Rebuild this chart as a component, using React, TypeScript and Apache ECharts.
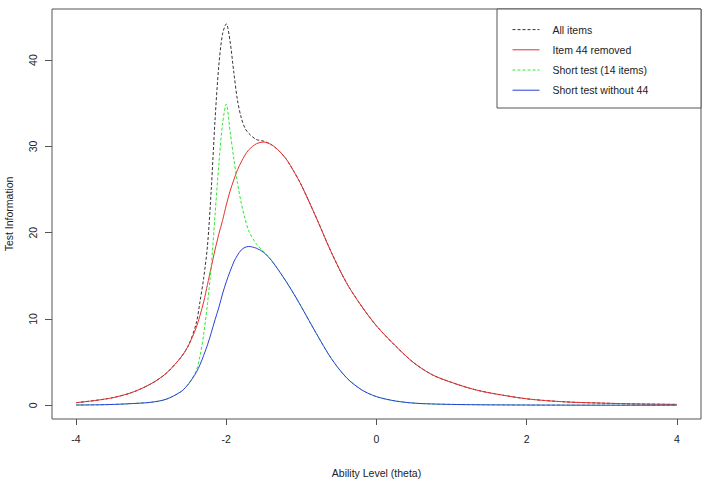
import React, { useEffect, useRef } from "react";
import * as echarts from "echarts";

const theta = [-4, -3.75, -3.5, -3.25, -3, -2.8, -2.6, -2.5, -2.4, -2.35, -2.3, -2.25, -2.2, -2.15, -2.1, -2.05, -2, -1.95, -1.9, -1.85, -1.8, -1.75, -1.7, -1.6, -1.5, -1.4, -1.3, -1.2, -1.1, -1, -0.8, -0.6, -0.4, -0.2, 0, 0.25, 0.5, 0.75, 1, 1.25, 1.5, 2, 2.5, 3, 3.5, 4];

const allItems = [0.3, 0.55, 0.9, 1.5, 2.5, 3.7, 5.6, 7.0, 9.5, 12.0, 14.8, 18.5, 25.0, 33.0, 39.3, 43.0, 44.2, 42.2, 38.6, 35.3, 33.3, 32.1, 31.5, 30.8, 30.6, 30.2, 29.5, 28.5, 27.1, 25.5, 21.7, 17.7, 14.2, 11.5, 9.2, 6.9, 4.9, 3.5, 2.65, 1.95, 1.45, 0.75, 0.4, 0.25, 0.15, 0.1];

const item44Removed = [0.3, 0.55, 0.9, 1.5, 2.5, 3.7, 5.6, 7.0, 9.0, 10.4, 12.0, 14.0, 16.0, 18.0, 19.8, 21.4, 23.2, 24.8, 26.1, 27.3, 28.2, 29.0, 29.6, 30.3, 30.5, 30.2, 29.5, 28.5, 27.1, 25.5, 21.7, 17.7, 14.2, 11.5, 9.2, 6.9, 4.9, 3.5, 2.65, 1.95, 1.45, 0.75, 0.4, 0.25, 0.15, 0.1];

const shortTest = [0.03, 0.05, 0.1, 0.2, 0.35, 0.7, 1.6, 2.5, 4.0, 5.7, 8.3, 11.8, 16.1, 22.0, 27.8, 32.6, 34.9, 31.8, 28.6, 25.7, 23.4, 21.6, 20.2, 18.7, 17.8, 16.8, 15.6, 14.3, 12.9, 11.4, 8.3, 5.4, 3.2, 1.8, 1.0, 0.5, 0.25, 0.15, 0.1, 0.07, 0.05, 0.03, 0.02, 0.01, 0.01, 0.01];

const shortNo44 = [0.03, 0.05, 0.1, 0.2, 0.35, 0.7, 1.6, 2.5, 3.8, 4.7, 5.8, 7.0, 8.4, 9.9, 11.3, 12.9, 14.3, 15.5, 16.6, 17.4, 18.0, 18.3, 18.4, 18.2, 17.7, 16.8, 15.6, 14.3, 12.9, 11.4, 8.3, 5.4, 3.2, 1.8, 1.0, 0.5, 0.25, 0.15, 0.1, 0.07, 0.05, 0.03, 0.02, 0.01, 0.01, 0.01];

const xTicks = [-4, -2, 0, 2, 4];
const yTicks = [0, 10, 20, 30, 40];
const seriesNames = ["All items", "Item 44 removed", "Short test (14 items)", "Short test without 44"];

const FONT = "'Liberation Sans', Arial, Helvetica, sans-serif";

export default function App() {
  const ref = useRef<HTMLDivElement>(null);
  useEffect(() => {
    if (!ref.current) return;
    const chart = echarts.init(ref.current, null, { renderer: "svg" });
    const mk = (ys: number[]) => theta.map((x, i) => [x, ys[i]]);
    const lineSeries = (name: string, ys: number[], color: string, dashed: boolean) => ({
      name,
      type: "line",
      data: mk(ys),
      showSymbol: false,
      symbol: "none",
      smooth: 0.3,
      lineStyle: { color, width: 1, type: dashed ? [3, 2] : "solid" },
      itemStyle: { color },
    });
    chart.setOption({
      animation: false,
      backgroundColor: "#ffffff",
      textStyle: { fontFamily: FONT },
      grid: {
        left: 52,
        top: 9,
        width: 649,
        height: 410,
        outerBoundsMode: "none",
        containLabel: false,
        show: true,
        borderColor: "#555",
        borderWidth: 1,
        backgroundColor: "transparent",
      },
      legend: {
        orient: "vertical",
        left: 497,
        top: 9,
        z: 10,
        padding: [15, 10, 10, 15],
        itemWidth: 27,
        itemHeight: 14,
        itemGap: 9,
        data: seriesNames,
        itemStyle: { opacity: 0 },
        lineStyle: { width: 1 },
        textStyle: { fontSize: 10.5, color: "#222", fontFamily: FONT, padding: [0, 0, 0, 8] },
      },
      xAxis: {
        type: "value",
        min: -4.32,
        max: 4.32,
        name: "Ability Level (theta)",
        nameLocation: "middle",
        nameGap: 48,
        nameTextStyle: { fontSize: 10.5, color: "#222", fontFamily: FONT },
        axisLine: { show: false, onZero: false },
        splitLine: { show: false },
        axisTick: { show: true, customValues: xTicks, length: 6, lineStyle: { color: "#555" } },
        axisLabel: {
          customValues: xTicks,
          margin: 14,
          fontSize: 10.5,
          color: "#222",
          fontFamily: FONT,
          formatter: (v: number) => String(v),
        },
      },
      yAxis: {
        type: "value",
        min: -1.59,
        max: 45.92,
        name: "Test Information",
        nameLocation: "middle",
        nameGap: 38,
        nameRotate: 90,
        nameTextStyle: { fontSize: 10.5, color: "#222", fontFamily: FONT },
        axisLine: { show: false, onZero: false },
        splitLine: { show: false },
        axisTick: { show: true, customValues: yTicks, length: 7, lineStyle: { color: "#555" } },
        axisLabel: {
          customValues: yTicks,
          rotate: 90,
          margin: 14,
          fontSize: 10.5,
          color: "#222",
          fontFamily: FONT,
          formatter: (v: number) => String(v),
        },
      },
      graphic: [
        {
          type: "rect",
          shape: { x: 497, y: 9, width: 204, height: 99 },
          style: { fill: "#fff", stroke: "#555", lineWidth: 1 },
          z: 9,
          silent: true,
        },
      ],
      series: [
        lineSeries(seriesNames[0], allItems, "#333333", true),
        lineSeries(seriesNames[1], item44Removed, "#e8312f", false),
        lineSeries(seriesNames[2], shortTest, "#2ee82e", true),
        lineSeries(seriesNames[3], shortNo44, "#2b3fe0", false),
      ],
    });
    return () => chart.dispose();
  }, []);
  return (
    <div
      ref={ref}
      style={{ position: "fixed", left: 0, top: 0, width: 728, height: 485 }}
    />
  );
}
